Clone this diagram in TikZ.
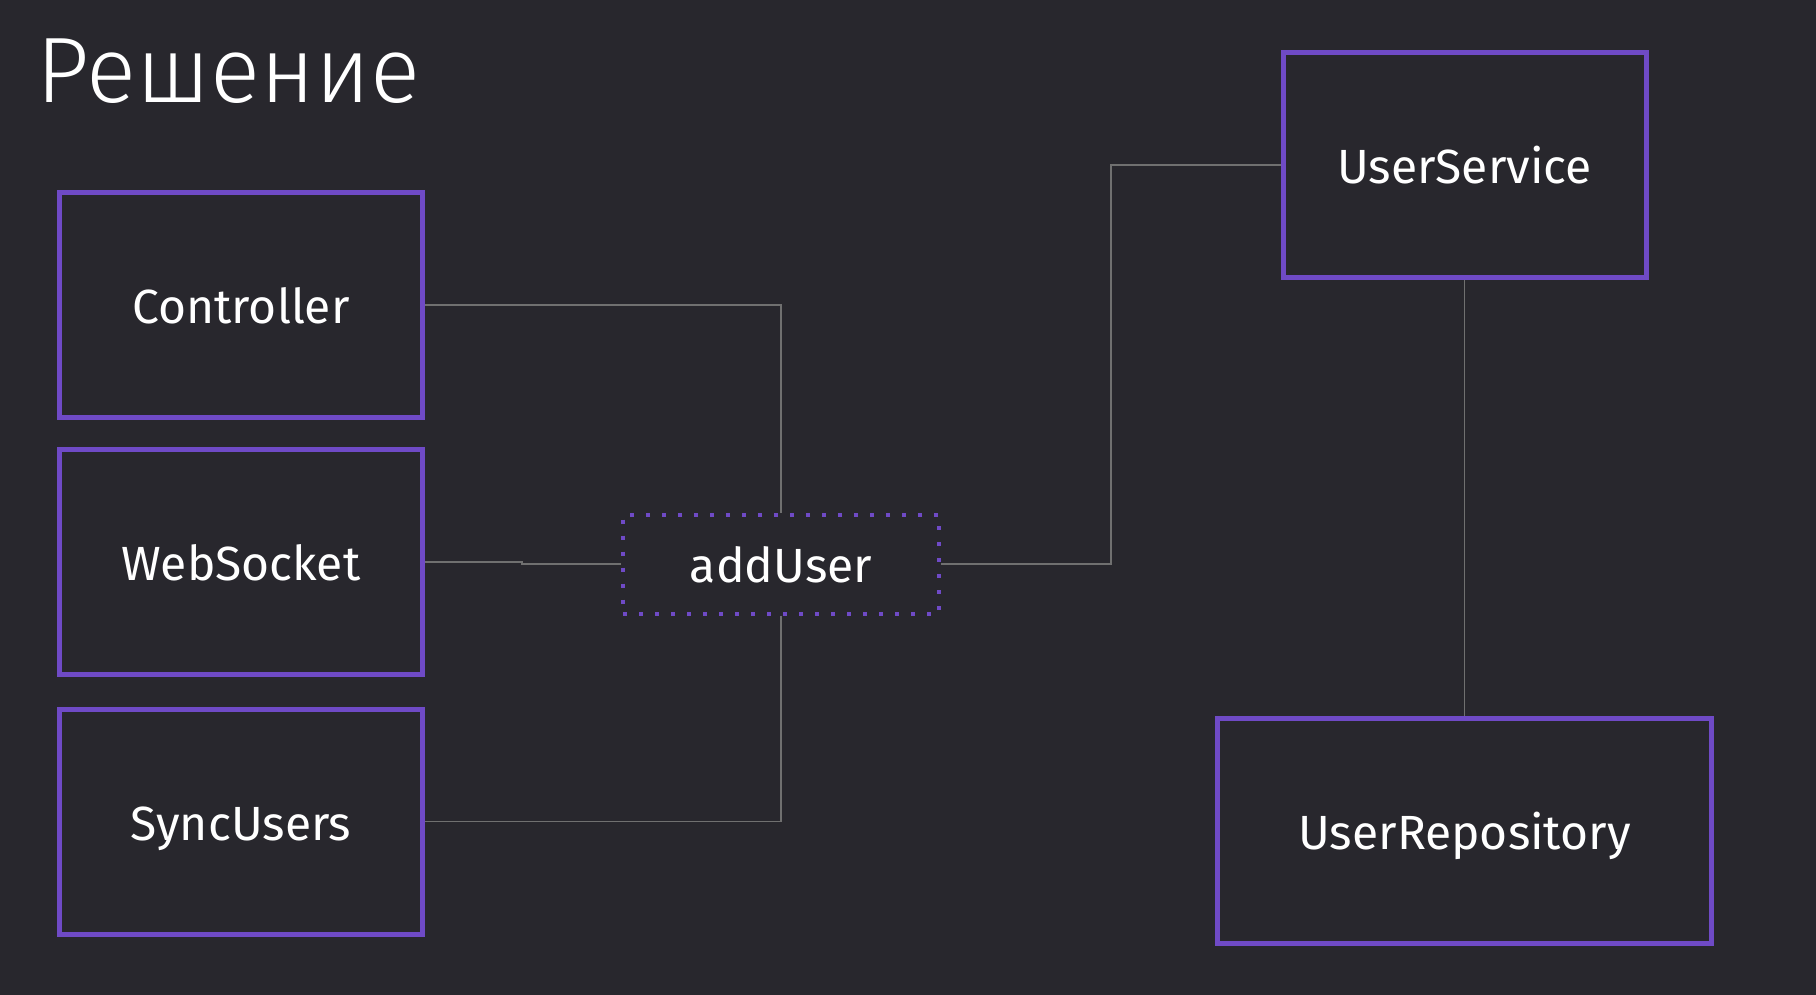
\documentclass[tikz,border=0pt]{standalone}
\usepackage{fontspec}
\setmainfont{Fira Sans}
\newfontfamily\titlefont{Fira Sans Light}
\definecolor{bg}{HTML}{28272D}
\definecolor{boxpurple}{HTML}{6F4AC6}
\definecolor{wire}{HTML}{707070}
\tikzset{
  block/.style={draw=boxpurple, line width=2.5pt, minimum width=181.5pt,
    minimum height=112.5pt, inner sep=0pt, text=white, text height=18.5pt,
    text depth=0pt, font=\fontsize{24}{28}\selectfont},
  callbox/.style={draw=boxpurple, line width=2pt, dash pattern=on 2pt off 6pt,
    minimum width=158pt, minimum height=49.5pt, inner sep=0pt, text=white,
    text height=18.5pt, text depth=0pt, font=\fontsize{24}{28}\selectfont},
  link/.style={draw=wire, line width=0.8pt},
}
\begin{document}
\begin{tikzpicture}[x=0.5pt,y=-0.5pt]
    \fill[bg] (0,0) rectangle (1816,995);
    \node[anchor=base west, inner sep=0pt, text=white,
      font=\titlefont\fontsize{46.5}{52}\selectfont] (title) at (36,103) {Решение};
    % callers
    \node[block] (ctrl) at (241,305) {Controller};
    \node[block] (sock) at (241,562) {WebSocket};
    \node[block] (sync) at (241,821.5) {SyncUsers};
    % shared method
    \node[callbox] (add) at (781,564) {addUser};
    % services
    \node[block] (svc) at (1464.5,165) {UserService};
    \node[block, minimum width=247pt] (repo) at (1464.5,831) {UserRepository};
    \coordinate (step) at (522,0);
    \coordinate (jog) at (1111,0);
    \draw[link] (ctrl.east) -| (add.north);
    \draw[link] (sock.east) -- (sock.east -| step) |- (add.west);
    \draw[link] (sync.east) -| (add.south);
    \draw[link] (add.east) -- (add.east -| jog) |- (svc.west);
    \draw[link] (svc.south) -- (repo.north);
  \end{tikzpicture}
\end{document}
